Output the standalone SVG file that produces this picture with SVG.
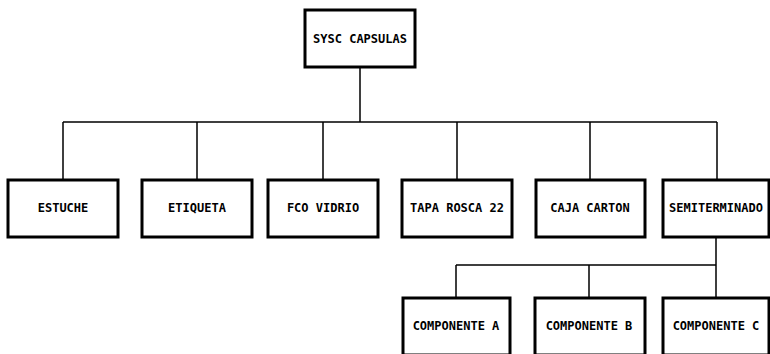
<svg xmlns="http://www.w3.org/2000/svg" width="770" height="354" viewBox="0 0 770 354">
<style>
.box{fill:#fff;stroke:#000;stroke-width:3}
.lbl{font-family:"DejaVu Sans Mono","Liberation Mono",monospace;font-weight:bold;font-size:12px;fill:#000;text-anchor:middle;dominant-baseline:central}
.con{fill:none;stroke:#000;stroke-width:1.5}
</style>
<rect width="770" height="354" fill="#fff"/>
<g id="connectors">
<path class="con" d="M360 67V122M63 122H717M63 122V180M197 122V180M323 122V180M457 122V180M590 122V180M717 122V180"/>
<path class="con" d="M716 237V265M456 265H716M456 265V298M589 265V298M716 265V298"/>
</g>
<g id="n-root"><rect class="box" x="305" y="10" width="110" height="57"/><text class="lbl" x="360" y="39">SYSC CAPSULAS</text></g>
<g id="n-estuche"><rect class="box" x="8" y="180" width="110" height="57"/><text class="lbl" x="63" y="208">ESTUCHE</text></g>
<g id="n-etiqueta"><rect class="box" x="142" y="180" width="110" height="57"/><text class="lbl" x="197" y="208">ETIQUETA</text></g>
<g id="n-fco"><rect class="box" x="268" y="180" width="110" height="57"/><text class="lbl" x="323" y="208">FCO VIDRIO</text></g>
<g id="n-tapa"><rect class="box" x="402" y="180" width="110" height="57"/><text class="lbl" x="457" y="208">TAPA ROSCA 22</text></g>
<g id="n-caja"><rect class="box" x="536" y="180" width="109" height="57"/><text class="lbl" x="590" y="208">CAJA CARTON</text></g>
<g id="n-semi"><rect class="box" x="663" y="180" width="106" height="57"/><text class="lbl" x="716" y="208">SEMITERMINADO</text></g>
<g id="n-compA"><rect class="box" x="403" y="298" width="107" height="57"/><text class="lbl" x="456" y="326">COMPONENTE A</text></g>
<g id="n-compB"><rect class="box" x="535" y="298" width="110" height="57"/><text class="lbl" x="589" y="326">COMPONENTE B</text></g>
<g id="n-compC"><rect class="box" x="663" y="298" width="106" height="57"/><text class="lbl" x="716" y="326">COMPONENTE C</text></g>
</svg>
